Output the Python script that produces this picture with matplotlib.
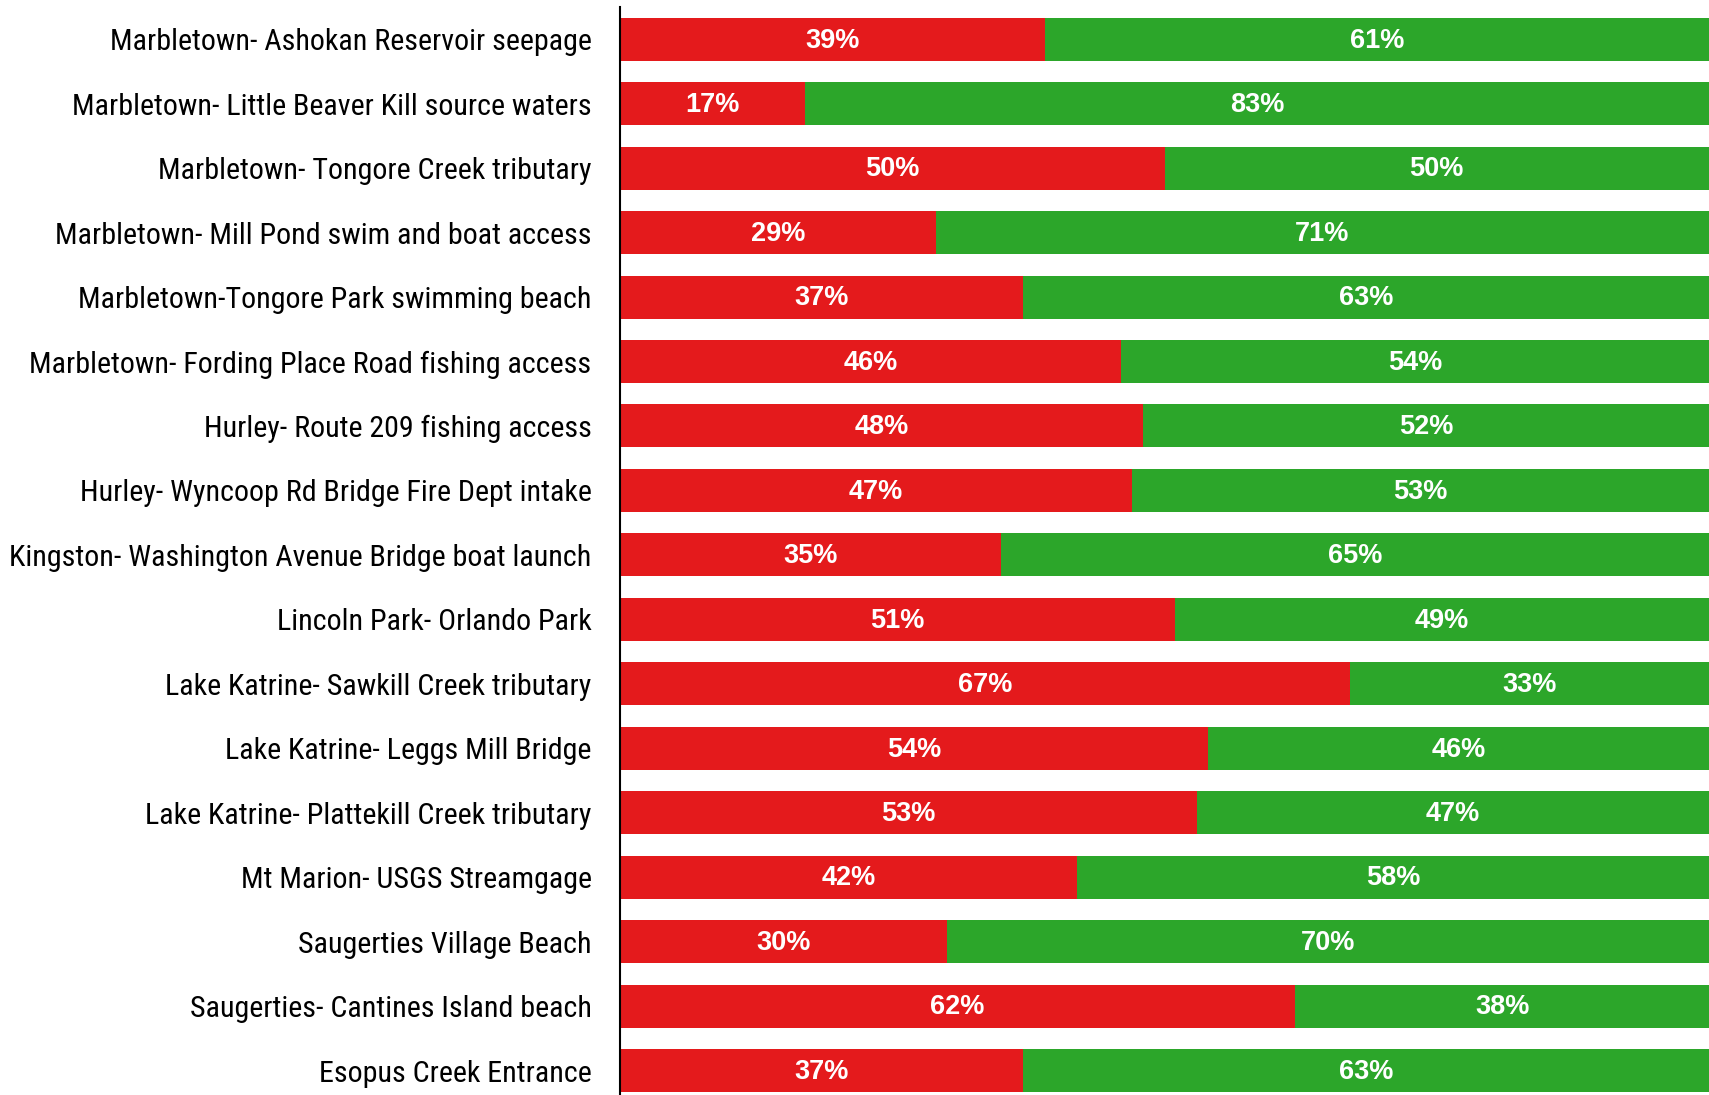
import matplotlib
matplotlib.use("Agg")
import matplotlib.pyplot as plt

sites = [
    "Marbletown- Ashokan Reservoir seepage",
    "Marbletown- Little Beaver Kill source waters",
    "Marbletown- Tongore Creek tributary",
    "Marbletown- Mill Pond swim and boat access",
    "Marbletown-Tongore Park swimming beach",
    "Marbletown- Fording Place Road fishing access",
    "Hurley- Route 209 fishing access",
    "Hurley- Wyncoop Rd Bridge Fire Dept intake",
    "Kingston- Washington Avenue Bridge boat launch",
    "Lincoln Park- Orlando Park",
    "Lake Katrine- Sawkill Creek tributary",
    "Lake Katrine- Leggs Mill Bridge",
    "Lake Katrine- Plattekill Creek tributary",
    "Mt Marion- USGS Streamgage",
    "Saugerties Village Beach",
    "Saugerties- Cantines Island beach",
    "Esopus Creek Entrance",
]
red_pct = [39, 17, 50, 29, 37, 46, 48, 47, 35, 51, 67, 54, 53, 42, 30, 62, 37]
green_pct = [61, 83, 50, 71, 63, 54, 52, 53, 65, 49, 33, 46, 47, 58, 70, 38, 63]

RED = "#e41a1c"
GREEN = "#2ca62a"
LABEL_FONT = ["Roboto Condensed", "Archivo Narrow", "DejaVu Sans"]
PCT_FONT = ["Liberation Sans", "DejaVu Sans"]

fig = plt.figure(figsize=(17.09, 10.95), dpi=100)
ax = fig.add_axes([0.3628, 0.0, 1.0 - 0.3628, 1 - 7 / 1095])

y = list(range(len(sites)))
h = 0.667
ax.barh(y, red_pct, height=h, color=RED)
ax.barh(y, green_pct, left=red_pct, height=h, color=GREEN)

for i, (r, g) in enumerate(zip(red_pct, green_pct)):
    ax.text(r / 2, i + 0.02, f"{r}%", ha="center", va="center", color="white",
            fontsize=19.5, fontweight="bold", family=PCT_FONT)
    ax.text(r + g / 2, i + 0.02, f"{g}%", ha="center", va="center", color="white",
            fontsize=19.5, fontweight="bold", family=PCT_FONT)

ax.set_xlim(0, 100)
ax.set_ylim(16.38, -0.5)
ax.set_yticks(y)
ax.set_yticklabels(sites, family=LABEL_FONT, fontsize=21.6)
ax.tick_params(axis="y", length=0, pad=20.5)
ax.set_xticks([])
for s in ["top", "right", "bottom"]:
    ax.spines[s].set_visible(False)
ax.spines["left"].set_linewidth(1.5)
ax.spines["left"].set_color("black")

fig.savefig("out.png", dpi=100)
